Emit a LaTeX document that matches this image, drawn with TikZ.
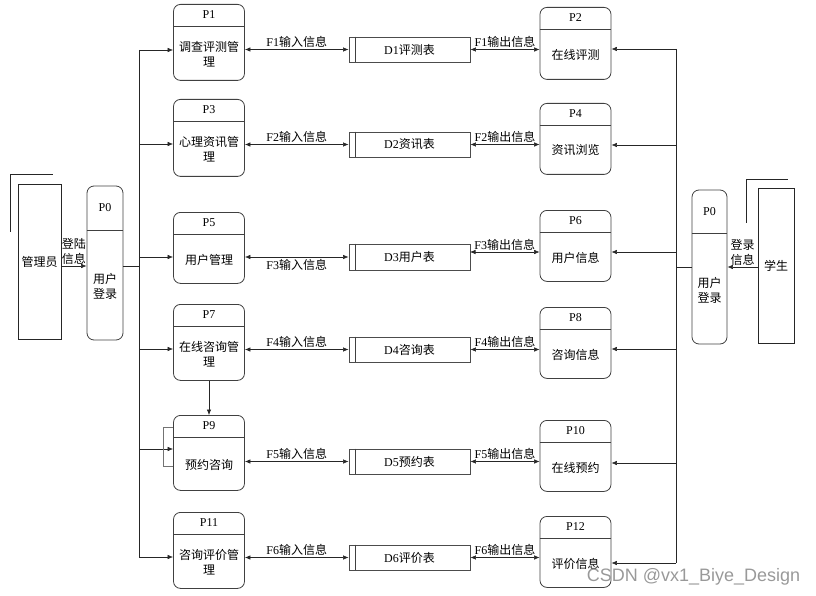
\documentclass[tikz,border=0pt]{standalone}
\usepackage{fontspec}
\setmainfont{Liberation Serif}
\newfontfamily\cjk{Noto Sans CJK SC}
\newfontfamily\wmfont{Liberation Sans}
\usetikzlibrary{calc,arrows.meta}

\newcommand{\zh}[1]{{\cjk #1}}
% process box: name, x, top, bottom, id, text
\newcommand{\proc}[6]{%
  \node[box,minimum height={#4-#3},anchor=north] (#1) at (#2,#3) {};
  \draw[div] ($(#1.north west)+(0,22)$) -- ($(#1.north east)+(0,22)$);
  \node[idtxt] (#1-id) at ($(#1.north)+(0,11)$) {#5};
  \node[zhtxt] (#1-txt) at (#2,{(#3+22+#4)/2+1}) {#6};
}

\begin{document}
\begin{tikzpicture}[x=1pt,y=-1pt,font=\fontsize{12}{15}\selectfont,
  box/.style={draw=black!75,line width=0.8pt,rounded corners=7pt,minimum width=71pt,inner sep=0pt},
  div/.style={draw=black!75,line width=0.8pt},
  store/.style={draw=black!70,line width=0.9pt,minimum width=121pt,minimum height=25pt,inner sep=0pt},
  ent/.style={draw=black!85,line width=0.7pt,minimum height=155pt,inner sep=0pt},
  line/.style={draw=black!85,line width=0.6pt},
  arr/.style={line,-{Latex[length=5.5pt,width=4.5pt]}},
  dbl/.style={line,{Latex[length=5.5pt,width=4.5pt]}-{Latex[length=5.5pt,width=4.5pt]}},
  idtxt/.style={inner sep=0pt},
  zhtxt/.style={font=\cjk\fontsize{12}{15}\selectfont,align=center,inner sep=0pt},
  flab/.style={inner sep=1.5pt}]
  \useasboundingbox (0,0) rectangle (816,596);

  % external entities
  \node[ent,zhtxt,minimum width=43pt] (adm) at (39.5,261.5) {管理员};
  \draw[line] (adm.north west) ++(-7,48) -- ++(0,-57) -- ++(42,0);
  \node[ent,zhtxt,minimum width=36pt] (stu) at (776,265.5) {学生};
  \draw[line] (stu.north west) ++(-11,35) -- ++(0,-43) -- ++(41,0);

  % login processes
  \node[box,minimum width=36pt,minimum height=154pt] (p0l) at (105,263) {};
  \draw[div] ($(p0l.north west)+(0,45)$) -- ($(p0l.north east)+(0,45)$);
  \node[idtxt] (p0l-id) at (105,208) {P0};
  \node[zhtxt] (p0l-txt) at (105,286) {用户\\登录};

  \node[box,minimum width=35pt,minimum height=154pt] (p0r) at (709.5,267) {};
  \draw[div] ($(p0r.north west)+(0,44)$) -- ($(p0r.north east)+(0,44)$);
  \node[idtxt] (p0r-id) at (709.5,212) {P0};
  \node[zhtxt] (p0r-txt) at (709.5,290) {用户\\登录};

  % processes
  \proc{p1}{209}{4}{80}{P1}{调查评测管\\理}
  \proc{p3}{209}{99}{176}{P3}{心理资讯管\\理}
  \proc{p5}{209}{212}{283}{P5}{用户管理}
  \proc{p7}{209}{304}{380}{P7}{在线咨询管\\理}
  \proc{p9}{209}{415}{490}{P9}{预约咨询}
  \proc{p11}{209}{512}{588}{P11}{咨询评价管\\理}
  \proc{p2}{575.5}{7}{79}{P2}{在线评测}
  \proc{p4}{575.5}{103}{174}{P4}{资讯浏览}
  \proc{p6}{575.5}{210}{281}{P6}{用户信息}
  \proc{p8}{575.5}{307}{378}{P8}{咨询信息}
  \proc{p10}{575.5}{420}{491}{P10}{在线预约}
  \proc{p12}{575.5}{516}{587}{P12}{评价信息}

  % data stores
  \node[store] (d1) at (409.5,49.5) {D1\zh{评测表}};
  \node[store] (d2) at (409.5,144.5) {D2\zh{资讯表}};
  \node[store,minimum height=26pt] (d3) at (409.5,257) {D3\zh{用户表}};
  \node[store] (d4) at (409.5,349.5) {D4\zh{咨询表}};
  \node[store] (d5) at (409.5,461.5) {D5\zh{预约表}};
  \node[store] (d6) at (409.5,557.5) {D6\zh{评价表}};
  \foreach \d in {d1,d2,d3,d4,d5,d6}
    \draw[div] ($(\d.north west)+(7,0)$) -- ($(\d.south west)+(7,0)$);

  % login flows
  \coordinate (lj) at (139,266);
  \draw[line] (lj -| p0l.east) -- (lj);
  \draw[arr] (lj -| adm.east) -- (lj -| p0l.west)
    node[zhtxt,midway,above,inner sep=1.5pt] (ladm) {登陆\\信息};
  \coordinate (rj) at (676,267);
  \draw[line] (rj -| p0r.west) -- (rj);
  \draw[arr] (rj -| stu.west) -- (rj -| p0r.east)
    node[zhtxt,midway,above,inner sep=1.5pt] (lstu) {登录\\信息};

  % buses
  \foreach \n/\y [count=\i] in {p1/50,p3/144,p5/257,p7/349,p9/449,p11/557}{
    \coordinate (lb\i) at (139,\y);
    \draw[arr] (lb\i) -- (lb\i -| \n.west);
  }
  \draw[line] (lb1) -- (lb6);
  \foreach \n/\y [count=\i] in {p2/49,p4/145,p6/252,p8/349,p10/463,p12/563}{
    \coordinate (rb\i) at (676,\y);
    \draw[arr] (rb\i) -- (rb\i -| \n.east);
  }
  \draw[line] (rb1) -- (rb6);

  % data flows
  \foreach \l/\d/\r/\n in {p1/d1/p2/1,p3/d2/p4/2,p7/d4/p8/4,p9/d5/p10/5,p11/d6/p12/6}{
    \draw[dbl] (\l.east |- \d.west) -- (\d.west)
      node[flab,midway,above] (fi\n) {F\n\zh{输入信息}};
    \draw[dbl] (\d.east) -- (\d.east -| \r.west)
      node[flab,midway,above] (fo\n) {F\n\zh{输出信息}};
  }
  \draw[dbl] (p5.east |- d3.west) -- (d3.west)
    node[flab,midway,below] (fi3) {F3\zh{输入信息}};
  \coordinate (f3o) at (470,252);
  \draw[dbl] (f3o) -- (f3o -| p6.west)
    node[flab,midway,above] (fo3) {F3\zh{输出信息}};

  % consult -> booking
  \draw[arr] (p7.south) -- (p9.north);
  \draw[line,draw=black!55] (p9.north west) ++(0,12) -- ++(-10,0) -- ++(0,39) -- ++(10,0);

  \node[text=black!40,font=\wmfont\fontsize{18}{20}\selectfont,inner sep=0pt] (wm) at (693.5,577) {CSDN @vx1\_Biye\_Design};
\end{tikzpicture}
\end{document}
